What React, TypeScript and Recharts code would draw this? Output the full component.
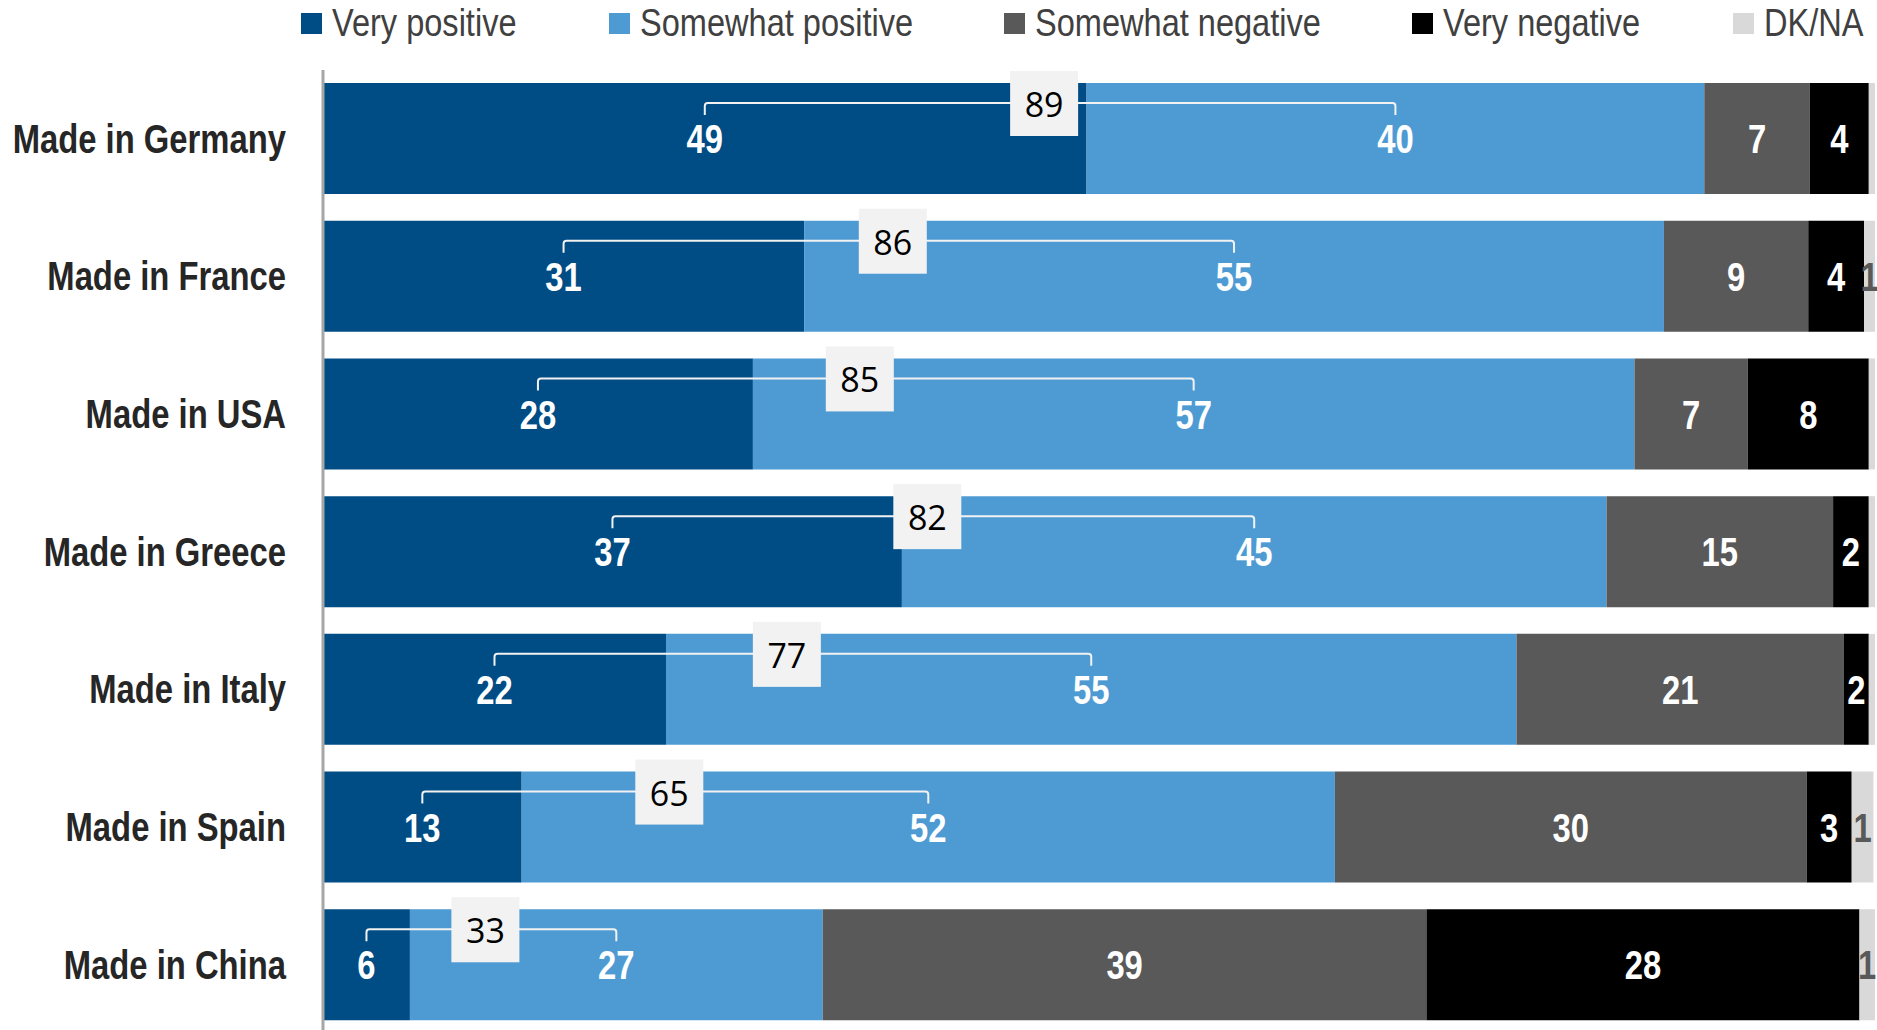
import React from "react";
import { BarChart, Bar, XAxis, YAxis, LabelList } from "recharts";

const categories = [
    "Made in Germany",
    "Made in France",
    "Made in USA",
    "Made in Greece",
    "Made in Italy",
    "Made in Spain",
    "Made in China",
];
// shares in % (labels show them rounded)
const veryPositive = [49.2, 31.0, 27.7, 37.3, 22.1, 12.8, 5.6];
const somewhatPositive = [39.8, 55.4, 56.8, 45.4, 54.8, 52.4, 26.6];
const somewhatNegative = [6.8, 9.3, 7.3, 14.6, 21.1, 30.4, 38.9];
const veryNegative = [3.8, 3.6, 7.8, 2.3, 1.6, 2.9, 27.9];
const dkna = [0.4, 0.7, 0.4, 0.4, 0.4, 1.4, 1.0];

const series = [
    { key: "vp", name: "Very positive", color: "#004C85", text: "#ffffff" },
    { key: "sp", name: "Somewhat positive", color: "#4E9BD4", text: "#ffffff" },
    { key: "sn", name: "Somewhat negative", color: "#595959", text: "#ffffff" },
    { key: "vn", name: "Very negative", color: "#000000", text: "#ffffff" },
    { key: "dk", name: "DK/NA", color: "#D9D9D9", text: "#595959" },
];

const data = categories.map((name, i) => ({
    name,
    vp: veryPositive[i],
    sp: somewhatPositive[i],
    sn: somewhatNegative[i],
    vn: veryNegative[i],
    dk: dkna[i],
}));

// no Arial Narrow here, so squeeze Liberation Sans instead
const FONT = "'Liberation Sans', Arial, sans-serif";

function NarrowText({ x, y, anchor, fill, size, bold, squeeze = 0.82, children }: any) {
    return (
        <text
            transform={`translate(${x},${y}) scale(${squeeze},1)`}
            textAnchor={anchor}
            dominantBaseline="central"
            fontFamily={FONT}
            fontSize={size}
            fontWeight={bold ? "bold" : "normal"}
            fill={fill}
        >
            {children}
        </text>
    );
}

function CategoryTick(props: any) {
    const { x, y, payload } = props;
    return (
        <NarrowText x={x} y={y} anchor="end" fill="#262626" size={40} bold>
            {payload.value}
        </NarrowText>
    );
}

function segmentLabel(color: string) {
    return (props: any) => {
        const { x, y, width, height, value } = props;
        if (value < 0.6) return null;
        return (
            <NarrowText x={x + width / 2} y={y + height / 2 + 1} anchor="middle" fill={color} size={40} bold>
                {Math.round(value)}
            </NarrowText>
        );
    };
}

function SumBracket(props: any) {
    const { x, y, width, index } = props;
    const row = data[index];
    const unit = width / row.sp;
    const x1 = x - (row.vp * unit) / 2;
    const x2 = x + width / 2;
    const ly = y + 20;
    const cx = (x1 + x2) / 2 - 6;
    return (
        <g>
            <path
                d={`M${x1},${ly + 12} L${x1},${ly + 3} Q${x1},${ly} ${x1 + 3},${ly} L${x2 - 3},${ly} Q${x2},${ly} ${x2},${ly + 3} L${x2},${ly + 12}`}
                stroke="#f2f2f2"
                strokeWidth={2}
                fill="none"
            />
            <rect x={cx - 34} y={y - 12} width={68} height={65} fill="#f2f2f2" />
            <text
                x={cx}
                y={ly + 1}
                textAnchor="middle"
                dominantBaseline="central"
                fontFamily="'Open Sans', sans-serif"
                fontSize={34}
                fill="#000"
            >
                {Math.round(row.vp) + Math.round(row.sp)}
            </text>
        </g>
    );
}

const legendX = [301, 609, 1004, 1412, 1733];

function Legend() {
    return (
        <svg
            width={1877}
            height={60}
            style={{ position: "absolute", left: 0, top: 0 }}
        >
            {series.map((s, i) => (
                <g key={s.key}>
                    <rect x={legendX[i]} y={13} width={21} height={21} fill={s.color} />
                    <NarrowText
                        x={legendX[i] + 31}
                        y={22}
                        anchor="start"
                        fill="#404040"
                        size={39}
                        squeeze={0.835}
                    >
                        {s.name}
                    </NarrowText>
                </g>
            ))}
        </svg>
    );
}

export default function App() {
    return (
        <div
            style={{
                position: "absolute",
                left: 0,
                top: 0,
                width: 1877,
                height: 1030,
                overflow: "hidden",
                background: "#fff",
            }}
        >
            <Legend />
            <BarChart
                width={1877}
                height={1034}
                data={data}
                layout="vertical"
                barSize={111}
                margin={{ top: 70, right: 2, bottom: 0, left: 0 }}
            >
                <XAxis type="number" domain={[0, 100]} allowDataOverflow hide />
                <YAxis
                    type="category"
                    dataKey="name"
                    width={323}
                    axisLine={{ stroke: "#a6a6a6", strokeWidth: 3 }}
                    tickLine={false}
                    tickMargin={31}
                    tick={<CategoryTick />}
                />
                {series.map((s) => (
                    <Bar
                        key={s.key}
                        dataKey={s.key}
                        stackId="a"
                        fill={s.color}
                        isAnimationActive={false}
                    >
                        <LabelList dataKey={s.key} content={segmentLabel(s.text)} />
                        {s.key === "sp" && <LabelList dataKey="sp" content={SumBracket} />}
                    </Bar>
                ))}
            </BarChart>
        </div>
    );
}
